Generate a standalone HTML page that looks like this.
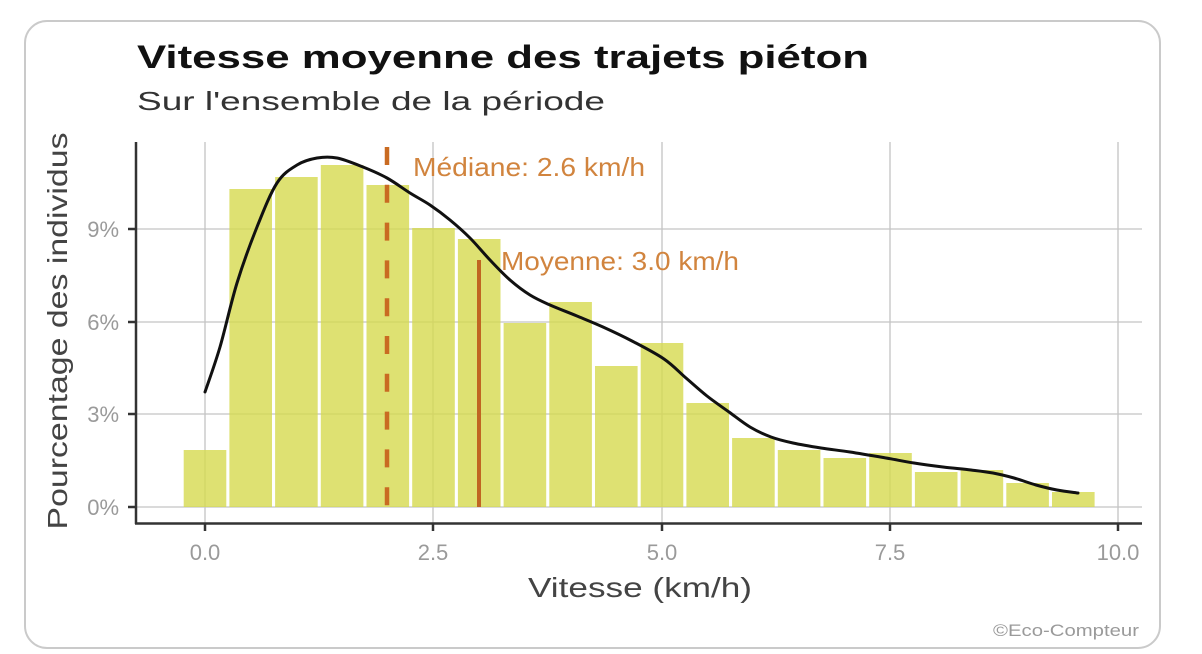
<!DOCTYPE html>
<html>
<head>
<meta charset="utf-8">
<style>
  html, body { margin: 0; padding: 0; background: #ffffff; }
  body { width: 1202px; height: 654px; overflow: hidden; }
  svg { display: block; }
  text { font-family: "Liberation Sans", "DejaVu Sans", sans-serif; }
</style>
</head>
<body>
<svg width="1202" height="654" viewBox="0 0 1202 654" xmlns="http://www.w3.org/2000/svg">
  <rect x="0" y="0" width="1202" height="654" fill="#ffffff"/>
  <!-- frame -->
  <rect x="25" y="21" width="1135" height="627" rx="22" ry="22" fill="#ffffff" stroke="#cacaca" stroke-width="2"/>

  <!-- title & subtitle -->
  <text x="137" y="68" font-size="32" font-weight="bold" fill="#111111" textLength="732" lengthAdjust="spacingAndGlyphs">Vitesse moyenne des trajets piéton</text>
  <text x="137" y="110" font-size="26" fill="#333333" textLength="468" lengthAdjust="spacingAndGlyphs">Sur l'ensemble de la période</text>

  <!-- gridlines -->
  <g stroke="#c4c4c4" stroke-width="1.3">
    <line x1="137" y1="229" x2="1142" y2="229"/>
    <line x1="137" y1="322" x2="1142" y2="322"/>
    <line x1="137" y1="414" x2="1142" y2="414"/>
    <line x1="137" y1="507" x2="1142" y2="507"/>
    <line x1="205" y1="142" x2="205" y2="523"/>
    <line x1="433" y1="142" x2="433" y2="523"/>
    <line x1="662" y1="142" x2="662" y2="523"/>
    <line x1="890" y1="142" x2="890" y2="523"/>
    <line x1="1118" y1="142" x2="1118" y2="523"/>
  </g>

  <!-- bars -->
  <g fill="#d6da4f" fill-opacity="0.8">
    <rect x="183.7" y="450" width="42.6" height="57"/>
    <rect x="229.4" y="189" width="42.6" height="318"/>
    <rect x="275.1" y="177" width="42.6" height="330"/>
    <rect x="320.8" y="165" width="42.6" height="342"/>
    <rect x="366.5" y="185" width="42.6" height="322"/>
    <rect x="412.2" y="228" width="42.6" height="279"/>
    <rect x="457.9" y="239" width="42.6" height="268"/>
    <rect x="503.6" y="323" width="42.6" height="184"/>
    <rect x="549.3" y="302" width="42.6" height="205"/>
    <rect x="595.0" y="366" width="42.6" height="141"/>
    <rect x="640.7" y="343" width="42.6" height="164"/>
    <rect x="686.4" y="403" width="42.6" height="104"/>
    <rect x="732.1" y="438" width="42.6" height="69"/>
    <rect x="777.8" y="450" width="42.6" height="57"/>
    <rect x="823.5" y="458" width="42.6" height="49"/>
    <rect x="869.2" y="453" width="42.6" height="54"/>
    <rect x="914.9" y="472" width="42.6" height="35"/>
    <rect x="960.6" y="470" width="42.6" height="37"/>
    <rect x="1006.3" y="483" width="42.6" height="24"/>
    <rect x="1052.0" y="492" width="42.6" height="15"/>
  </g>

  <!-- median (dashed) and mean (solid) -->
  <line x1="387" y1="147" x2="387" y2="507" stroke="#c96b22" stroke-width="4.5" stroke-dasharray="18 19.8"/>
  <line x1="479" y1="260" x2="479" y2="507" stroke="#c06522" stroke-width="4"/>

  <!-- density curve -->
  <path fill="none" stroke="#111111" stroke-width="3" stroke-linejoin="round" stroke-linecap="round"
    d="M205,392
       C207.5,384.5 214.67,365.17 220,347
       C225.33,328.83 230.83,303 237,283
       C243.17,263 250.33,243.67 257,227
       C263.67,210.33 270.33,193.33 277,183
       C283.67,172.67 290.33,169.17 297,165
       C303.67,160.83 310.33,159.17 317,158
       C323.67,156.83 329.33,156.5 337,158
       C344.67,159.5 354.67,163.67 363,167
       C371.33,170.33 379.17,173.67 387,178
       C394.83,182.33 402.83,188.5 410,193
       C417.17,197.5 423.33,200.5 430,205
       C436.67,209.5 443.33,214.5 450,220
       C456.67,225.5 463.33,231.33 470,238
       C476.67,244.67 483.33,253 490,260
       C496.67,267 503.33,274.17 510,280
       C516.67,285.83 523.33,290.83 530,295
       C536.67,299.17 542.17,301.5 550,305
       C557.83,308.5 568.17,312.33 577,316
       C585.83,319.67 593.83,322.83 603,327
       C612.17,331.17 621.83,335.67 632,341
       C642.17,346.33 655,352.83 664,359
       C673,365.17 678.83,371.83 686,378
       C693.17,384.17 699.83,390.33 707,396
       C714.17,401.67 721.83,406.83 729,412
       C736.17,417.17 743,422.83 750,427
       C757,431.17 763.83,434.33 771,437
       C778.17,439.67 784.67,441.17 793,443
       C801.33,444.83 811.5,446.5 821,448
       C830.5,449.5 839.17,450.33 850,452
       C860.83,453.67 875.33,456.17 886,458
       C896.67,459.83 904.5,461.5 914,463
       C923.5,464.5 933.5,465.83 943,467
       C952.5,468.17 962.67,469 971,470
       C979.33,471 985.83,471.67 993,473
       C1000.17,474.33 1006.83,476 1014,478
       C1021.17,480 1028.83,483 1036,485
       C1043.17,487 1050,488.67 1057,490
       C1064,491.33 1074.5,492.5 1078,493"/>

  <!-- annotations -->
  <text x="413" y="176" font-size="26" fill="#d1843e" textLength="232" lengthAdjust="spacingAndGlyphs">Médiane: 2.6 km/h</text>
  <text x="501" y="270" font-size="26" fill="#d1843e" textLength="238" lengthAdjust="spacingAndGlyphs">Moyenne: 3.0 km/h</text>

  <!-- axes -->
  <g stroke="#333333" stroke-width="2.5">
    <line x1="136" y1="142" x2="136" y2="524"/>
    <line x1="135" y1="523.5" x2="1142" y2="523.5"/>
    <line x1="128" y1="229" x2="136" y2="229"/>
    <line x1="128" y1="322" x2="136" y2="322"/>
    <line x1="128" y1="414" x2="136" y2="414"/>
    <line x1="128" y1="507" x2="136" y2="507"/>
    <line x1="205" y1="523" x2="205" y2="531"/>
    <line x1="433" y1="523" x2="433" y2="531"/>
    <line x1="662" y1="523" x2="662" y2="531"/>
    <line x1="890" y1="523" x2="890" y2="531"/>
    <line x1="1118" y1="523" x2="1118" y2="531"/>
  </g>

  <!-- y tick labels -->
  <g font-size="22" fill="#9a9a9a" text-anchor="end">
    <text x="119" y="237">9%</text>
    <text x="119" y="330">6%</text>
    <text x="119" y="422">3%</text>
    <text x="119" y="515">0%</text>
  </g>

  <!-- x tick labels -->
  <g font-size="22" fill="#9a9a9a" text-anchor="middle">
    <text x="205" y="560">0.0</text>
    <text x="433" y="560">2.5</text>
    <text x="662" y="560">5.0</text>
    <text x="890" y="560">7.5</text>
    <text x="1118" y="560">10.0</text>
  </g>

  <!-- axis titles -->
  <text x="528" y="597" font-size="28" fill="#444444" textLength="224" lengthAdjust="spacingAndGlyphs">Vitesse (km/h)</text>
  <text transform="translate(67,331) rotate(-90)" text-anchor="middle" font-size="28" fill="#444444" textLength="397" lengthAdjust="spacingAndGlyphs">Pourcentage des individus</text>

  <!-- credit -->
  <text x="993" y="636" font-size="17" fill="#9a9a9a" textLength="146" lengthAdjust="spacingAndGlyphs">©Eco-Compteur</text>
</svg>
</body>
</html>
